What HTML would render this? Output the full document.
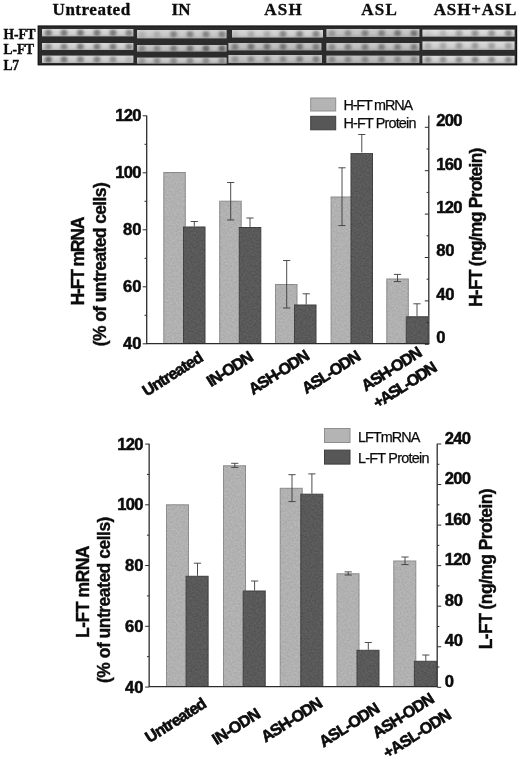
<!DOCTYPE html>
<html><head><meta charset="utf-8"><title>Figure</title>
<style>
html,body{margin:0;padding:0;background:#fff;}
body{width:520px;height:760px;overflow:hidden;font-family:"Liberation Sans", sans-serif;}
svg{display:block;will-change:transform;}
text{font-family:"Liberation Sans", sans-serif;fill:#0c0c0c;}
.serif{font-family:"Liberation Serif", serif;font-weight:bold;stroke:#0c0c0c;stroke-width:0.35px;}
.tick{font-weight:bold;font-size:16.6px;stroke:#0c0c0c;stroke-width:0.5px;}
.ax{font-weight:bold;font-size:17.5px;stroke:#0c0c0c;stroke-width:0.4px;}
.leg{font-size:14.4px;stroke:#0c0c0c;stroke-width:0.25px;}
.xl{font-weight:bold;font-size:16px;stroke:#0c0c0c;stroke-width:0.6px;}
</style></head><body>
<svg width="520" height="760" viewBox="0 0 520 760">
<defs>
<filter id="blur1" x="-50%" y="-50%" width="200%" height="200%"><feGaussianBlur stdDeviation="1.4 1.2"/></filter>
<filter id="blur05" x="-5%" y="-30%" width="110%" height="160%"><feGaussianBlur stdDeviation="0.55"/></filter>
<filter id="grain" x="0" y="0" width="100%" height="100%" color-interpolation-filters="sRGB">
<feTurbulence type="fractalNoise" baseFrequency="0.55" numOctaves="2" seed="7" result="t"/>
<feColorMatrix in="t" type="matrix" values="2.4 0 0 0 -0.7  2.4 0 0 0 -0.7  2.4 0 0 0 -0.7  0 0 0 0 0.055" result="g"/>
<feComposite in="g" in2="SourceAlpha" operator="in" result="gc"/>
<feMerge><feMergeNode in="SourceGraphic"/><feMergeNode in="gc"/></feMerge>
</filter>
<linearGradient id="strip" x1="0" y1="0" x2="0" y2="1"><stop offset="0" stop-color="#e0e0e0"/><stop offset="0.6" stop-color="#d4d4d4"/><stop offset="1" stop-color="#bcbcbc"/></linearGradient>
</defs>
<rect x="0" y="0" width="520" height="760" fill="#fff"/>

<g id="gel">
<text class="serif" x="52.6" y="15.4" font-size="17" textLength="77.5">Untreated</text>
<text class="serif" x="171.6" y="15.4" font-size="17">IN</text>
<text class="serif" x="264.3" y="15.4" font-size="17" textLength="37.5">ASH</text>
<text class="serif" x="361.3" y="15.4" font-size="17" textLength="35.5">ASL</text>
<text class="serif" x="433.8" y="15.4" font-size="17" textLength="82.5">ASH+ASL</text>
<text class="serif" x="3.4" y="38.6" font-size="13.6" textLength="32.3">H-FT</text>
<text class="serif" x="3.4" y="54.4" font-size="13.6" textLength="30.8">L-FT</text>
<text class="serif" x="3.4" y="69.7" font-size="13.6" textLength="15.7">L7</text>
<rect x="37.6" y="25.4" width="479.6" height="40" fill="#111"/>
<rect x="38.7" y="26.5" width="477.4" height="37.8" fill="#2c2c2c"/>
<g filter="url(#blur05)">
<rect x="42" y="29" width="91.4" height="7.4" fill="url(#strip)"/>
<rect x="42" y="43" width="91.4" height="7.0" fill="url(#strip)"/>
<rect x="42" y="55.6" width="91.4" height="7.4" fill="url(#strip)"/>
<rect x="137" y="30" width="89.6" height="8.4" fill="url(#strip)"/>
<rect x="137" y="45" width="89.6" height="6.6" fill="url(#strip)"/>
<rect x="137" y="57.6" width="89.6" height="6.0" fill="url(#strip)"/>
<rect x="232" y="30" width="91.0" height="7.6" fill="url(#strip)"/>
<rect x="228.4" y="43" width="93.0" height="7.4" fill="url(#strip)"/>
<rect x="228.4" y="55" width="93.6" height="8.0" fill="url(#strip)"/>
<rect x="326.4" y="29" width="93.0" height="8.0" fill="url(#strip)"/>
<rect x="326.4" y="43" width="93.0" height="7.6" fill="url(#strip)"/>
<rect x="326.4" y="55.6" width="93.0" height="7.4" fill="url(#strip)"/>
<rect x="422.4" y="29.6" width="92.2" height="7.1" fill="url(#strip)"/>
<rect x="422.4" y="41.4" width="92.2" height="8.5" fill="url(#strip)"/>
<rect x="422.4" y="55.8" width="92.2" height="7.5" fill="url(#strip)"/>
</g>
<g filter="url(#blur05)" fill="#000">
<rect x="42" y="29" width="91.4" height="7.4" opacity="0.02"/>
<rect x="42" y="43" width="91.4" height="7.0" opacity="0.03"/>
<rect x="42" y="55.6" width="91.4" height="7.4" opacity="0.03"/>
<rect x="137" y="30" width="89.6" height="8.4" opacity="0.06"/>
<rect x="137" y="45" width="89.6" height="6.6" opacity="0.1"/>
<rect x="137" y="57.6" width="89.6" height="6.0" opacity="0.08"/>
<rect x="232" y="30" width="91.0" height="7.6" opacity="0.03"/>
<rect x="228.4" y="43" width="93.0" height="7.4" opacity="0.12"/>
<rect x="228.4" y="55" width="93.6" height="8.0" opacity="0.1"/>
<rect x="326.4" y="29" width="93.0" height="8.0" opacity="0.09"/>
<rect x="326.4" y="43" width="93.0" height="7.6" opacity="0.1"/>
<rect x="326.4" y="55.6" width="93.0" height="7.4" opacity="0.12"/>
<rect x="422.4" y="41.4" width="92.2" height="8.5" opacity="0.02"/>
<rect x="422.4" y="55.8" width="92.2" height="7.5" opacity="0.02"/>
</g>
<g filter="url(#blur1)" fill="#4a4a4a">
<ellipse cx="48.4" cy="32.8" rx="3.4" ry="3.2" opacity="0.66"/>
<ellipse cx="64" cy="32.8" rx="3.4" ry="3.2" opacity="0.66"/>
<ellipse cx="80.4" cy="32.8" rx="3.4" ry="3.2" opacity="0.66"/>
<ellipse cx="97" cy="32.8" rx="3.4" ry="3.2" opacity="0.66"/>
<ellipse cx="113" cy="32.8" rx="3.4" ry="3.2" opacity="0.66"/>
<ellipse cx="129" cy="32.8" rx="3.4" ry="3.2" opacity="0.57"/>
<ellipse cx="48.4" cy="46.6" rx="3.4" ry="3.2" opacity="0.47"/>
<ellipse cx="64" cy="46.6" rx="3.4" ry="3.2" opacity="0.57"/>
<ellipse cx="80.4" cy="46.6" rx="3.4" ry="3.2" opacity="0.66"/>
<ellipse cx="97" cy="46.6" rx="3.4" ry="3.2" opacity="0.66"/>
<ellipse cx="113" cy="46.6" rx="3.4" ry="3.2" opacity="0.66"/>
<ellipse cx="129" cy="46.6" rx="3.4" ry="3.2" opacity="0.57"/>
<ellipse cx="48.4" cy="59.4" rx="3.4" ry="3.2" opacity="0.76"/>
<ellipse cx="64" cy="59.4" rx="3.4" ry="3.2" opacity="0.66"/>
<ellipse cx="80.4" cy="59.4" rx="3.4" ry="3.2" opacity="0.57"/>
<ellipse cx="97" cy="59.4" rx="3.4" ry="3.2" opacity="0.57"/>
<ellipse cx="113" cy="59.4" rx="3.4" ry="3.2" opacity="0.47"/>
<ellipse cx="129" cy="59.4" rx="3.4" ry="3.2" opacity="0.19"/>
<ellipse cx="142" cy="34.3" rx="3.4" ry="3.2" opacity="0.19"/>
<ellipse cx="157" cy="34.3" rx="3.4" ry="3.2" opacity="0.24"/>
<ellipse cx="173.6" cy="34.3" rx="3.4" ry="3.2" opacity="0.57"/>
<ellipse cx="190" cy="34.3" rx="3.4" ry="3.2" opacity="0.57"/>
<ellipse cx="206" cy="34.3" rx="3.4" ry="3.2" opacity="0.57"/>
<ellipse cx="222" cy="34.3" rx="3.4" ry="3.2" opacity="0.57"/>
<ellipse cx="142" cy="48.4" rx="3.4" ry="3.2" opacity="0.47"/>
<ellipse cx="157" cy="48.4" rx="3.4" ry="3.2" opacity="0.47"/>
<ellipse cx="173.6" cy="48.4" rx="3.4" ry="3.2" opacity="0.57"/>
<ellipse cx="190" cy="48.4" rx="3.4" ry="3.2" opacity="0.66"/>
<ellipse cx="206" cy="48.4" rx="3.4" ry="3.2" opacity="0.76"/>
<ellipse cx="222" cy="48.4" rx="3.4" ry="3.2" opacity="0.76"/>
<ellipse cx="142" cy="60.7" rx="3.4" ry="3.2" opacity="0.38"/>
<ellipse cx="157" cy="60.7" rx="3.4" ry="3.2" opacity="0.47"/>
<ellipse cx="173.6" cy="60.7" rx="3.4" ry="3.2" opacity="0.47"/>
<ellipse cx="190" cy="60.7" rx="3.4" ry="3.2" opacity="0.47"/>
<ellipse cx="206" cy="60.7" rx="3.4" ry="3.2" opacity="0.47"/>
<ellipse cx="222" cy="60.7" rx="3.4" ry="3.2" opacity="0.47"/>
<ellipse cx="235" cy="33.9" rx="3.4" ry="3.2" opacity="0.14"/>
<ellipse cx="251" cy="33.9" rx="3.4" ry="3.2" opacity="0.28"/>
<ellipse cx="267" cy="33.9" rx="3.4" ry="3.2" opacity="0.28"/>
<ellipse cx="283" cy="33.9" rx="3.4" ry="3.2" opacity="0.57"/>
<ellipse cx="299.6" cy="33.9" rx="3.4" ry="3.2" opacity="0.57"/>
<ellipse cx="316" cy="33.9" rx="3.4" ry="3.2" opacity="0.57"/>
<ellipse cx="235" cy="46.8" rx="3.4" ry="3.2" opacity="0.57"/>
<ellipse cx="251" cy="46.8" rx="3.4" ry="3.2" opacity="0.66"/>
<ellipse cx="267" cy="46.8" rx="3.4" ry="3.2" opacity="0.66"/>
<ellipse cx="283" cy="46.8" rx="3.4" ry="3.2" opacity="0.66"/>
<ellipse cx="299.6" cy="46.8" rx="3.4" ry="3.2" opacity="0.66"/>
<ellipse cx="316" cy="46.8" rx="3.4" ry="3.2" opacity="0.57"/>
<ellipse cx="235" cy="59.1" rx="3.4" ry="3.2" opacity="0.38"/>
<ellipse cx="251" cy="59.1" rx="3.4" ry="3.2" opacity="0.47"/>
<ellipse cx="267" cy="59.1" rx="3.4" ry="3.2" opacity="0.47"/>
<ellipse cx="283" cy="59.1" rx="3.4" ry="3.2" opacity="0.47"/>
<ellipse cx="299.6" cy="59.1" rx="3.4" ry="3.2" opacity="0.57"/>
<ellipse cx="316" cy="59.1" rx="3.4" ry="3.2" opacity="0.57"/>
<ellipse cx="332" cy="33.1" rx="3.4" ry="3.2" opacity="0.38"/>
<ellipse cx="348" cy="33.1" rx="3.4" ry="3.2" opacity="0.47"/>
<ellipse cx="365" cy="33.1" rx="3.4" ry="3.2" opacity="0.57"/>
<ellipse cx="381.6" cy="33.1" rx="3.4" ry="3.2" opacity="0.57"/>
<ellipse cx="397.6" cy="33.1" rx="3.4" ry="3.2" opacity="0.66"/>
<ellipse cx="414" cy="33.1" rx="3.4" ry="3.2" opacity="0.66"/>
<ellipse cx="332" cy="46.9" rx="3.4" ry="3.2" opacity="0.47"/>
<ellipse cx="348" cy="46.9" rx="3.4" ry="3.2" opacity="0.57"/>
<ellipse cx="365" cy="46.9" rx="3.4" ry="3.2" opacity="0.57"/>
<ellipse cx="381.6" cy="46.9" rx="3.4" ry="3.2" opacity="0.57"/>
<ellipse cx="397.6" cy="46.9" rx="3.4" ry="3.2" opacity="0.57"/>
<ellipse cx="414" cy="46.9" rx="3.4" ry="3.2" opacity="0.57"/>
<ellipse cx="332" cy="59.4" rx="3.4" ry="3.2" opacity="0.47"/>
<ellipse cx="348" cy="59.4" rx="3.4" ry="3.2" opacity="0.47"/>
<ellipse cx="365" cy="59.4" rx="3.4" ry="3.2" opacity="0.47"/>
<ellipse cx="381.6" cy="59.4" rx="3.4" ry="3.2" opacity="0.47"/>
<ellipse cx="397.6" cy="59.4" rx="3.4" ry="3.2" opacity="0.47"/>
<ellipse cx="414" cy="59.4" rx="3.4" ry="3.2" opacity="0.47"/>
<ellipse cx="428" cy="33.3" rx="3.4" ry="3.2" opacity="0.10"/>
<ellipse cx="443" cy="33.3" rx="3.4" ry="3.2" opacity="0.24"/>
<ellipse cx="459" cy="33.3" rx="3.4" ry="3.2" opacity="0.38"/>
<ellipse cx="475" cy="33.3" rx="3.4" ry="3.2" opacity="0.47"/>
<ellipse cx="491.6" cy="33.3" rx="3.4" ry="3.2" opacity="0.47"/>
<ellipse cx="508.4" cy="33.3" rx="3.4" ry="3.2" opacity="0.57"/>
<ellipse cx="428" cy="45.8" rx="3.4" ry="3.2" opacity="0.28"/>
<ellipse cx="443" cy="45.8" rx="3.4" ry="3.2" opacity="0.33"/>
<ellipse cx="459" cy="45.8" rx="3.4" ry="3.2" opacity="0.43"/>
<ellipse cx="475" cy="45.8" rx="3.4" ry="3.2" opacity="0.43"/>
<ellipse cx="491.6" cy="45.8" rx="3.4" ry="3.2" opacity="0.38"/>
<ellipse cx="508.4" cy="45.8" rx="3.4" ry="3.2" opacity="0.38"/>
<ellipse cx="428" cy="59.6" rx="3.4" ry="3.2" opacity="0.47"/>
<ellipse cx="443" cy="59.6" rx="3.4" ry="3.2" opacity="0.47"/>
<ellipse cx="459" cy="59.6" rx="3.4" ry="3.2" opacity="0.52"/>
<ellipse cx="475" cy="59.6" rx="3.4" ry="3.2" opacity="0.57"/>
<ellipse cx="491.6" cy="59.6" rx="3.4" ry="3.2" opacity="0.52"/>
<ellipse cx="508.4" cy="59.6" rx="3.4" ry="3.2" opacity="0.52"/>
</g>
</g>
<g id="top">
<path d="M428.8 343.6V115.5" stroke="#2c2c2c" stroke-width="1.3" fill="none"/>
<g filter="url(#grain)">
<rect x="163.80" y="172.50" width="21.50" height="171.10" fill="#b4b4b4" stroke="#8e8e8e" stroke-width="1"/>
<rect x="183.50" y="227.00" width="21.50" height="116.60" fill="#575757" stroke="#3e3e3e" stroke-width="1"/>
<rect x="219.70" y="201.20" width="21.50" height="142.40" fill="#b4b4b4" stroke="#8e8e8e" stroke-width="1"/>
<rect x="239.30" y="227.50" width="21.50" height="116.10" fill="#575757" stroke="#3e3e3e" stroke-width="1"/>
<rect x="275.50" y="284.50" width="21.50" height="59.10" fill="#b4b4b4" stroke="#8e8e8e" stroke-width="1"/>
<rect x="294.50" y="305.00" width="21.50" height="38.60" fill="#575757" stroke="#3e3e3e" stroke-width="1"/>
<rect x="331.10" y="197.00" width="21.50" height="146.60" fill="#b4b4b4" stroke="#8e8e8e" stroke-width="1"/>
<rect x="351.00" y="153.00" width="21.50" height="190.60" fill="#575757" stroke="#3e3e3e" stroke-width="1"/>
<rect x="386.80" y="279.00" width="21.50" height="64.60" fill="#b4b4b4" stroke="#8e8e8e" stroke-width="1"/>
<rect x="406.30" y="316.80" width="21.50" height="26.80" fill="#575757" stroke="#3e3e3e" stroke-width="1"/>
</g>
<path d="M194.30 221.50V226.50M190.70 221.50H197.90" stroke="#3a3a3a" stroke-width="0.9" fill="none"/>
<path d="M230.70 182.50V220.00M227.10 182.50H234.30M227.10 220.00H234.30" stroke="#3a3a3a" stroke-width="0.9" fill="none"/>
<path d="M250.00 218.00V227.00M246.40 218.00H253.60" stroke="#3a3a3a" stroke-width="0.9" fill="none"/>
<path d="M286.70 260.50V308.00M283.10 260.50H290.30M283.10 308.00H290.30" stroke="#3a3a3a" stroke-width="0.9" fill="none"/>
<path d="M306.20 293.80V304.50M302.60 293.80H309.80" stroke="#3a3a3a" stroke-width="0.9" fill="none"/>
<path d="M342.00 167.80V225.60M338.40 167.80H345.60M338.40 225.60H345.60" stroke="#3a3a3a" stroke-width="0.9" fill="none"/>
<path d="M361.80 134.50V152.50M358.20 134.50H365.40" stroke="#3a3a3a" stroke-width="0.9" fill="none"/>
<path d="M397.50 274.40V281.60M393.90 274.40H401.10M393.90 281.60H401.10" stroke="#3a3a3a" stroke-width="0.9" fill="none"/>
<path d="M417.00 303.80V316.30M413.40 303.80H420.60" stroke="#3a3a3a" stroke-width="0.9" fill="none"/>
<path d="M146.7 115.5V343.6H429.40000000000003" stroke="#2c2c2c" stroke-width="1.3" fill="none"/>
<path d="M142.7 343.80H146.7M144.5 315.30H146.7M142.7 286.80H146.7M144.5 258.30H146.7M142.7 229.80H146.7M144.5 201.30H146.7M142.7 172.80H146.7M144.5 144.30H146.7M142.7 115.80H146.7" stroke="#2c2c2c" stroke-width="1" fill="none"/>
<text class="tick" x="141.4" y="349.40" text-anchor="end" textLength="18.3">40</text>
<text class="tick" x="141.4" y="292.40" text-anchor="end" textLength="18.3">60</text>
<text class="tick" x="141.4" y="235.40" text-anchor="end" textLength="18.3">80</text>
<text class="tick" x="141.4" y="178.40" text-anchor="end" textLength="26.2">100</text>
<text class="tick" x="141.4" y="121.40" text-anchor="end" textLength="26.2">120</text>
<path d="M428.8 344.30h-4M428.8 322.60h-2.2M428.8 300.90h-4M428.8 279.20h-2.2M428.8 257.50h-4M428.8 235.80h-2.2M428.8 214.10h-4M428.8 192.40h-2.2M428.8 170.70h-4M428.8 149.00h-2.2M428.8 127.30h-4" stroke="#2c2c2c" stroke-width="1" fill="none"/>
<text class="tick" x="436.3" y="343.20" textLength="9.4">0</text>
<text class="tick" x="436.3" y="299.80" textLength="18.3">40</text>
<text class="tick" x="436.3" y="256.40" textLength="18.3">80</text>
<text class="tick" x="436.3" y="213.00" textLength="26.2">120</text>
<text class="tick" x="436.3" y="169.60" textLength="26.2">160</text>
<text class="tick" x="436.3" y="126.20" textLength="26.2">200</text>
<rect x="310.7" y="98.0" width="25" height="13" fill="#b4b4b4" stroke="#8e8e8e" stroke-width="1"/>
<text class="leg" x="343.4" y="110.3" textLength="69.6">H-FT mRNA</text>
<rect x="310.7" y="116.3" width="25" height="13.5" fill="#575757" stroke="#3e3e3e" stroke-width="1"/>
<text class="leg" x="343.4" y="127.8" textLength="73">H-FT Protein</text>
<text class="ax" transform="translate(84 261) rotate(-90)" text-anchor="middle" textLength="89">H-FT mRNA</text>
<text class="ax" transform="translate(106.3 264.2) rotate(-90)" text-anchor="middle" textLength="164">(% of untreated cells)</text>
<text class="ax" transform="translate(482.2 227.3) rotate(-90)" text-anchor="middle" textLength="159.5">H-FT (ng/mg Protein)</text>
<text class="xl" transform="translate(204.4 360.0) rotate(-32.5)" text-anchor="end" textLength="68.5">Untreated</text>
<text class="xl" transform="translate(254.5 359.6) rotate(-32.5)" text-anchor="end" textLength="51.5">IN-ODN</text>
<text class="xl" transform="translate(310.7 358.4) rotate(-32.5)" text-anchor="end" textLength="68.5">ASH-ODN</text>
<text class="xl" transform="translate(361.9 358.8) rotate(-32.5)" text-anchor="end" textLength="66">ASL-ODN</text>
<text class="xl" transform="translate(423.2 355.1) rotate(-32.5)" text-anchor="end" textLength="68">ASH-ODN</text>
<text class="xl" transform="translate(438.2 370.1) rotate(-32.5)" text-anchor="end" textLength="72">+ASL-ODN</text>
</g>
<g id="bot">
<path d="M437.2 686.6V443.75" stroke="#2c2c2c" stroke-width="1.3" fill="none"/>
<g filter="url(#grain)">
<rect x="166.50" y="504.80" width="22.00" height="181.80" fill="#b4b4b4" stroke="#8e8e8e" stroke-width="1"/>
<rect x="186.10" y="576.30" width="22.00" height="110.30" fill="#575757" stroke="#3e3e3e" stroke-width="1"/>
<rect x="223.50" y="465.80" width="22.00" height="220.80" fill="#b4b4b4" stroke="#8e8e8e" stroke-width="1"/>
<rect x="243.20" y="591.00" width="22.00" height="95.60" fill="#575757" stroke="#3e3e3e" stroke-width="1"/>
<rect x="280.20" y="488.30" width="22.00" height="198.30" fill="#b4b4b4" stroke="#8e8e8e" stroke-width="1"/>
<rect x="300.80" y="494.20" width="22.00" height="192.40" fill="#575757" stroke="#3e3e3e" stroke-width="1"/>
<rect x="337.00" y="573.80" width="22.00" height="112.80" fill="#b4b4b4" stroke="#8e8e8e" stroke-width="1"/>
<rect x="357.00" y="650.30" width="22.00" height="36.30" fill="#575757" stroke="#3e3e3e" stroke-width="1"/>
<rect x="393.80" y="561.00" width="22.00" height="125.60" fill="#b4b4b4" stroke="#8e8e8e" stroke-width="1"/>
<rect x="414.40" y="661.30" width="22.00" height="25.30" fill="#575757" stroke="#3e3e3e" stroke-width="1"/>
</g>
<path d="M197.50 563.20V575.80M193.90 563.20H201.10" stroke="#3a3a3a" stroke-width="0.9" fill="none"/>
<path d="M234.80 463.30V467.40M231.20 463.30H238.40M231.20 467.40H238.40" stroke="#3a3a3a" stroke-width="0.9" fill="none"/>
<path d="M254.60 581.00V590.50M251.00 581.00H258.20" stroke="#3a3a3a" stroke-width="0.9" fill="none"/>
<path d="M292.00 474.70V501.60M288.40 474.70H295.60M288.40 501.60H295.60" stroke="#3a3a3a" stroke-width="0.9" fill="none"/>
<path d="M311.90 473.90V493.70M308.30 473.90H315.50" stroke="#3a3a3a" stroke-width="0.9" fill="none"/>
<path d="M348.20 571.90V575.00M344.60 571.90H351.80M344.60 575.00H351.80" stroke="#3a3a3a" stroke-width="0.9" fill="none"/>
<path d="M368.30 642.50V649.80M364.70 642.50H371.90" stroke="#3a3a3a" stroke-width="0.9" fill="none"/>
<path d="M405.00 557.00V564.60M401.40 557.00H408.60M401.40 564.60H408.60" stroke="#3a3a3a" stroke-width="0.9" fill="none"/>
<path d="M425.80 655.00V660.80M422.20 655.00H429.40" stroke="#3a3a3a" stroke-width="0.9" fill="none"/>
<path d="M149.15 443.75V686.6H437.8" stroke="#2c2c2c" stroke-width="1.3" fill="none"/>
<path d="M145.15 687.05H149.15M146.95000000000002 656.67H149.15M145.15 626.30H149.15M146.95000000000002 595.92H149.15M145.15 565.55H149.15M146.95000000000002 535.17H149.15M145.15 504.80H149.15M146.95000000000002 474.43H149.15M145.15 444.05H149.15" stroke="#2c2c2c" stroke-width="1" fill="none"/>
<text class="tick" x="143.4" y="692.65" text-anchor="end" textLength="18.3">40</text>
<text class="tick" x="143.4" y="631.90" text-anchor="end" textLength="18.3">60</text>
<text class="tick" x="143.4" y="571.15" text-anchor="end" textLength="18.3">80</text>
<text class="tick" x="143.4" y="510.40" text-anchor="end" textLength="26.2">100</text>
<text class="tick" x="143.4" y="449.65" text-anchor="end" textLength="26.2">120</text>
<path d="M437.2 687.30h4M437.2 667.02h2.2M437.2 646.75h4M437.2 626.47h2.2M437.2 606.20h4M437.2 585.92h2.2M437.2 565.65h4M437.2 545.38h2.2M437.2 525.10h4M437.2 504.83h2.2M437.2 484.55h4M437.2 464.28h2.2M437.2 444.00h4" stroke="#2c2c2c" stroke-width="1" fill="none"/>
<text class="tick" x="444.8" y="686.90" textLength="9.4">0</text>
<text class="tick" x="444.8" y="646.35" textLength="18.3">40</text>
<text class="tick" x="444.8" y="605.80" textLength="18.3">80</text>
<text class="tick" x="444.8" y="565.25" textLength="26.2">120</text>
<text class="tick" x="444.8" y="524.70" textLength="26.2">160</text>
<text class="tick" x="444.8" y="484.15" textLength="26.2">200</text>
<text class="tick" x="444.8" y="443.60" textLength="26.2">240</text>
<rect x="324.5" y="428.5" width="25.5" height="14" fill="#b4b4b4" stroke="#8e8e8e" stroke-width="1"/>
<text class="leg" x="358" y="442" textLength="62.4">LFTmRNA</text>
<rect x="324.5" y="450.1" width="25.5" height="14" fill="#575757" stroke="#3e3e3e" stroke-width="1"/>
<text class="leg" x="358" y="463" textLength="71.5">L-FT Protein</text>
<text class="ax" transform="translate(88.6 591.8) rotate(-90)" text-anchor="middle" textLength="92.5">L-FT mRNA</text>
<text class="ax" transform="translate(110.3 599.8) rotate(-90)" text-anchor="middle" textLength="166.5">(% of untreated cells)</text>
<text class="ax" transform="translate(491.6 568.8) rotate(-90)" text-anchor="middle" textLength="161">L-FT (ng/mg Protein)</text>
<text class="xl" transform="translate(207.8 706.2) rotate(-32.5)" text-anchor="end" textLength="69">Untreated</text>
<text class="xl" transform="translate(261.7 716.5) rotate(-32.5)" text-anchor="end" textLength="53.5">IN-ODN</text>
<text class="xl" transform="translate(323.8 705.7) rotate(-32.5)" text-anchor="end" textLength="69">ASH-ODN</text>
<text class="xl" transform="translate(380.9 711.1) rotate(-32.5)" text-anchor="end" textLength="68">ASL-ODN</text>
<text class="xl" transform="translate(435.4 701.4) rotate(-32.5)" text-anchor="end" textLength="69.5">ASH-ODN</text>
<text class="xl" transform="translate(452.5 717.5) rotate(-32.5)" text-anchor="end" textLength="77">+ASL-ODN</text>
</g>
</svg></body></html>
